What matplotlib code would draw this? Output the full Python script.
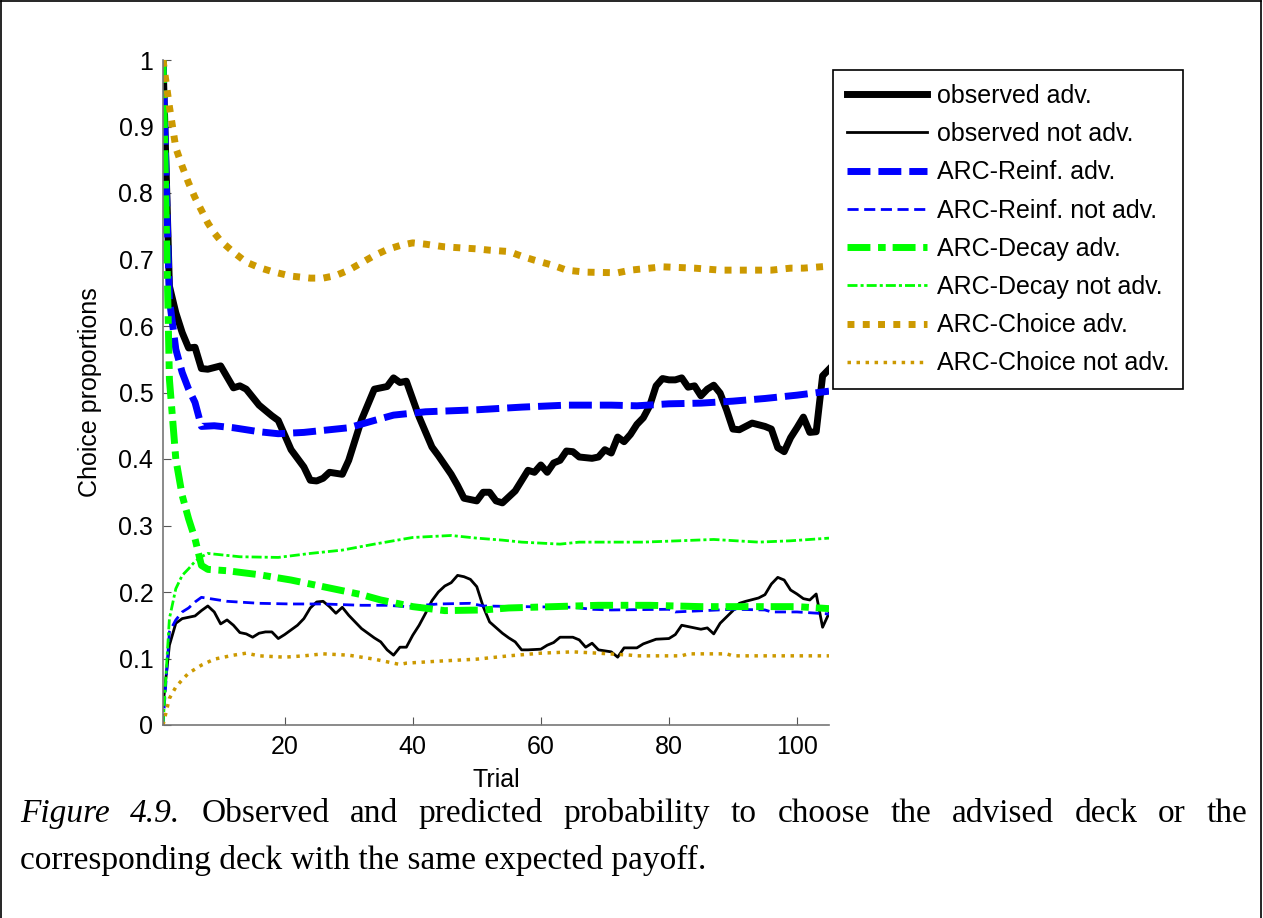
import matplotlib
matplotlib.use("Agg")
import matplotlib.pyplot as plt
from matplotlib.lines import Line2D

# --- data (trial, proportion) ---
obs_adv_x = [1, 2, 3, 4, 5, 6, 7, 8, 10, 12, 13, 14, 16, 18, 19, 21, 23, 24, 25, 26, 27, 29, 30, 32, 34,
             35, 36, 37, 38, 39, 41, 43, 44, 46, 47, 48, 50, 51, 52, 53, 54, 55, 56, 58, 59, 60, 61, 62,
             63, 64, 65, 66, 68, 69, 70, 71, 72, 73, 74, 75, 76, 77, 78, 79, 80, 81, 82, 83, 84, 85, 86,
             87, 88, 89, 90, 91, 93, 95, 96, 97, 98, 99, 100, 101, 102, 103, 104, 105]
obs_adv_y = [1.0, 0.66, 0.62, 0.59, 0.567, 0.568, 0.536, 0.535, 0.540, 0.507, 0.510, 0.505, 0.481, 0.465,
             0.458, 0.414, 0.388, 0.368, 0.367, 0.371, 0.380, 0.377, 0.398, 0.459, 0.505, 0.507, 0.509,
             0.522, 0.515, 0.517, 0.463, 0.418, 0.405, 0.377, 0.360, 0.341, 0.337, 0.350, 0.350, 0.337,
             0.334, 0.343, 0.352, 0.383, 0.380, 0.391, 0.380, 0.394, 0.398, 0.412, 0.411, 0.403, 0.401,
             0.403, 0.414, 0.409, 0.433, 0.426, 0.437, 0.452, 0.462, 0.480, 0.510, 0.521, 0.519, 0.519,
             0.522, 0.508, 0.510, 0.495, 0.505, 0.511, 0.499, 0.474, 0.445, 0.444, 0.454, 0.449, 0.445,
             0.417, 0.411, 0.432, 0.447, 0.463, 0.440, 0.441, 0.525, 0.535]

obs_not_x = [1, 2, 3, 4, 5, 6, 7, 8, 9, 10, 11, 12, 13, 14, 15, 16, 17, 18, 19, 20, 22, 23, 24, 25, 26,
             27, 28, 29, 30, 32, 34, 35, 36, 37, 38, 39, 40, 41, 42, 43, 44, 45, 46, 47, 48, 49, 50, 51,
             52, 54, 55, 56, 57, 58, 60, 61, 62, 63, 65, 66, 67, 68, 69, 71, 72, 73, 75, 76, 78, 80, 81,
             82, 84, 85, 86, 87, 88, 90, 91, 92, 94, 95, 96, 97, 98, 99, 100, 101, 102, 103, 104, 105]
obs_not_y = [0.03, 0.12, 0.153, 0.160, 0.162, 0.164, 0.172, 0.179, 0.170, 0.152, 0.158, 0.150, 0.139,
             0.137, 0.132, 0.138, 0.140, 0.140, 0.130, 0.136, 0.150, 0.160, 0.176, 0.185, 0.186, 0.178,
             0.168, 0.177, 0.165, 0.145, 0.131, 0.125, 0.113, 0.105, 0.117, 0.117, 0.135, 0.150, 0.168,
             0.187, 0.200, 0.209, 0.214, 0.225, 0.223, 0.219, 0.208, 0.178, 0.155, 0.138, 0.131, 0.125,
             0.113, 0.113, 0.114, 0.120, 0.124, 0.132, 0.132, 0.128, 0.117, 0.123, 0.113, 0.110, 0.102,
             0.116, 0.116, 0.122, 0.129, 0.130, 0.136, 0.150, 0.146, 0.144, 0.146, 0.137, 0.153, 0.172,
             0.183, 0.186, 0.191, 0.196, 0.212, 0.222, 0.218, 0.203, 0.197, 0.190, 0.188, 0.197, 0.147,
             0.168]

reinf_adv_x = [1, 2, 3, 4, 5, 6, 7, 9, 12, 16, 19, 23, 26, 30, 34, 37, 42, 50, 57, 64, 71, 75, 80, 85,
               90, 95, 100, 105]
reinf_adv_y = [1.0, 0.64, 0.565, 0.530, 0.505, 0.485, 0.449, 0.450, 0.447, 0.441, 0.438, 0.440, 0.443,
               0.447, 0.458, 0.466, 0.471, 0.474, 0.478, 0.481, 0.481, 0.480, 0.483, 0.484, 0.487, 0.491,
               0.496, 0.502]

reinf_not_x = [1, 2, 3, 4, 5, 6, 7, 9, 11, 16, 21, 26, 32, 36, 39, 44, 49, 51, 57, 65, 68, 71, 80, 81,
               90, 95, 96, 100, 105]
reinf_not_y = [0.0, 0.14, 0.158, 0.170, 0.176, 0.185, 0.192, 0.189, 0.186, 0.183, 0.182, 0.182, 0.180,
               0.180, 0.178, 0.182, 0.183, 0.179, 0.178, 0.177, 0.174, 0.173, 0.174, 0.170, 0.174, 0.173,
               0.170, 0.170, 0.167]

decay_adv_x = [1, 2, 3, 4, 5, 6, 7, 8, 11, 16, 21, 25, 28, 32, 35, 40, 45, 51, 55, 62, 69, 77, 85, 93,
               100, 105]
decay_adv_y = [1.0, 0.52, 0.40, 0.345, 0.310, 0.280, 0.240, 0.234, 0.232, 0.226, 0.218, 0.210, 0.204,
               0.196, 0.188, 0.178, 0.172, 0.173, 0.176, 0.178, 0.180, 0.180, 0.178, 0.178, 0.178, 0.175]

decay_not_x = [1, 2, 3, 4, 5, 6, 7, 8, 13, 19, 24, 29, 34, 40, 46, 50, 54, 57, 63, 66, 76, 87, 94, 99,
               105]
decay_not_y = [0.0, 0.16, 0.205, 0.225, 0.235, 0.246, 0.253, 0.258, 0.253, 0.252, 0.258, 0.263, 0.272,
               0.282, 0.285, 0.281, 0.278, 0.275, 0.272, 0.275, 0.275, 0.279, 0.275, 0.277, 0.281]

choice_adv_x = [1, 2, 3, 4, 5, 6, 7, 8, 9, 10, 12, 14, 16, 18, 21, 24, 26, 28, 30, 32, 34, 36, 38, 40,
                42, 45, 50, 52, 55, 57, 59, 62, 64, 67, 72, 74, 77, 79, 84, 88, 96, 99, 101, 105]
choice_adv_y = [1.0, 0.93, 0.868, 0.84, 0.815, 0.793, 0.774, 0.755, 0.740, 0.728, 0.711, 0.696, 0.688,
                0.682, 0.675, 0.672, 0.672, 0.676, 0.684, 0.695, 0.706, 0.715, 0.721, 0.725, 0.723,
                0.719, 0.716, 0.714, 0.712, 0.705, 0.699, 0.691, 0.684, 0.681, 0.680, 0.684, 0.687,
                0.689, 0.687, 0.684, 0.684, 0.687, 0.687, 0.690]

choice_not_x = [1, 2, 3, 4, 5, 7, 9, 12, 14, 16, 20, 23, 26, 30, 34, 37, 38, 39, 44, 50, 55, 60, 65, 69,
                74, 75, 82, 83, 89, 90, 105]
choice_not_y = [0.0, 0.04, 0.057, 0.068, 0.078, 0.090, 0.099, 0.105, 0.108, 0.104, 0.102, 0.104, 0.107,
                0.105, 0.099, 0.093, 0.091, 0.093, 0.096, 0.099, 0.104, 0.108, 0.110, 0.108, 0.105,
                0.104, 0.104, 0.107, 0.107, 0.104, 0.104]

labels = ["observed adv.", "observed not adv.", "ARC-Reinf. adv.", "ARC-Reinf. not adv.",
          "ARC-Decay adv.", "ARC-Decay not adv.", "ARC-Choice adv.", "ARC-Choice not adv."]

gold = "#CC9900"
plt.rcParams["font.family"] = ["Liberation Sans", "DejaVu Sans"]

W, H = 1263, 918
fig = plt.figure(figsize=(W / 100, H / 100), dpi=100)
ax = fig.add_axes([163 / W, 193 / H, 666 / W, 665 / H])

ax.plot(obs_adv_x, obs_adv_y, color="black", lw=5, label=labels[0])
ax.plot(obs_not_x, obs_not_y, color="black", lw=2, label=labels[1])
ax.plot(reinf_adv_x, reinf_adv_y, color="blue", lw=5, dashes=(3.3, 1.15), label=labels[2])
ax.plot(reinf_not_x, reinf_not_y, color="blue", lw=2, dashes=(4.0, 2.0), label=labels[3])
ax.plot(decay_adv_x, decay_adv_y, color="#00FF00", lw=5, dashes=(3.3, 1.1, 1.1, 1.0), label=labels[4])
ax.plot(decay_not_x, decay_not_y, color="#00FF00", lw=2, dashes=(3.6, 1.1, 1.1, 1.1), label=labels[5])
ax.plot(choice_adv_x, choice_adv_y, color=gold, lw=5, dashes=(1.0, 1.2), label=labels[6])
ax.plot(choice_not_x, choice_not_y, color=gold, lw=2.5, dashes=(1.0, 1.6), label=labels[7])

ax.set_xlim(1, 105)
ax.set_ylim(0, 1)
ax.set_xticks([20, 40, 60, 80, 100])
ax.set_yticks([i / 10 for i in range(11)])
ax.set_yticklabels(["0", "0.1", "0.2", "0.3", "0.4", "0.5", "0.6", "0.7", "0.8", "0.9", "1"])
ax.tick_params(direction="in", length=6, width=0.8, colors="#555555", labelcolor="black",
               labelsize=18, pad=7)
for s in ["top", "right"]:
    ax.spines[s].set_visible(False)
for s in ["left", "bottom"]:
    ax.spines[s].set_color("#777777")
    ax.spines[s].set_linewidth(1.2)
ax.set_xlabel("Trial", fontsize=18, labelpad=7)
ax.set_ylabel("Choice proportions", fontsize=18, labelpad=12)

leg = ax.legend(loc="upper left", bbox_to_anchor=(833 / W, 1 - 70 / H), bbox_transform=fig.transFigure,
                borderaxespad=0, fancybox=False, edgecolor="black", framealpha=1, fontsize=18,
                handlelength=3.2, handletextpad=0.4, labelspacing=0.57, borderpad=0.55)
leg.get_frame().set_linewidth(1.2)

# page frame
fig.add_artist(Line2D([1 / W, 1 / W], [0, 1 - 1 / H], color="black", lw=1.2, transform=fig.transFigure))
fig.add_artist(Line2D([1 / W, 1 - 2 / W], [1 - 1 / H, 1 - 1 / H], color="black", lw=1.2, transform=fig.transFigure))
fig.add_artist(Line2D([1 - 2 / W, 1 - 2 / W], [0, 1 - 1 / H], color="black", lw=1.2, transform=fig.transFigure))

# caption, first line justified
serif = ["Liberation Serif", "DejaVu Serif"]
words = ["Figure", "4.9.", "Observed", "and", "predicted", "probability", "to", "choose", "the",
         "advised", "deck", "or", "the"]
styles = ["italic", "italic"] + ["normal"] * (len(words) - 2)
y1 = 1 - 822 / H
texts = [fig.text(0, y1, w, fontsize=24, family=serif, style=st, va="baseline") for w, st in zip(words, styles)]
fig.canvas.draw()
r = fig.canvas.get_renderer()
widths = [t.get_window_extent(r).width for t in texts]
x0, x1 = 20, 1247
gap = (x1 - x0 - sum(widths)) / (len(words) - 1)
x = x0
for t, w in zip(texts, widths):
    t.set_x(x / W)
    x += w + gap
fig.text(20 / W, 1 - 869 / H, "corresponding deck with the same expected payoff.", fontsize=24,
         family=serif, va="baseline")

fig.savefig("out.png", dpi=100)
